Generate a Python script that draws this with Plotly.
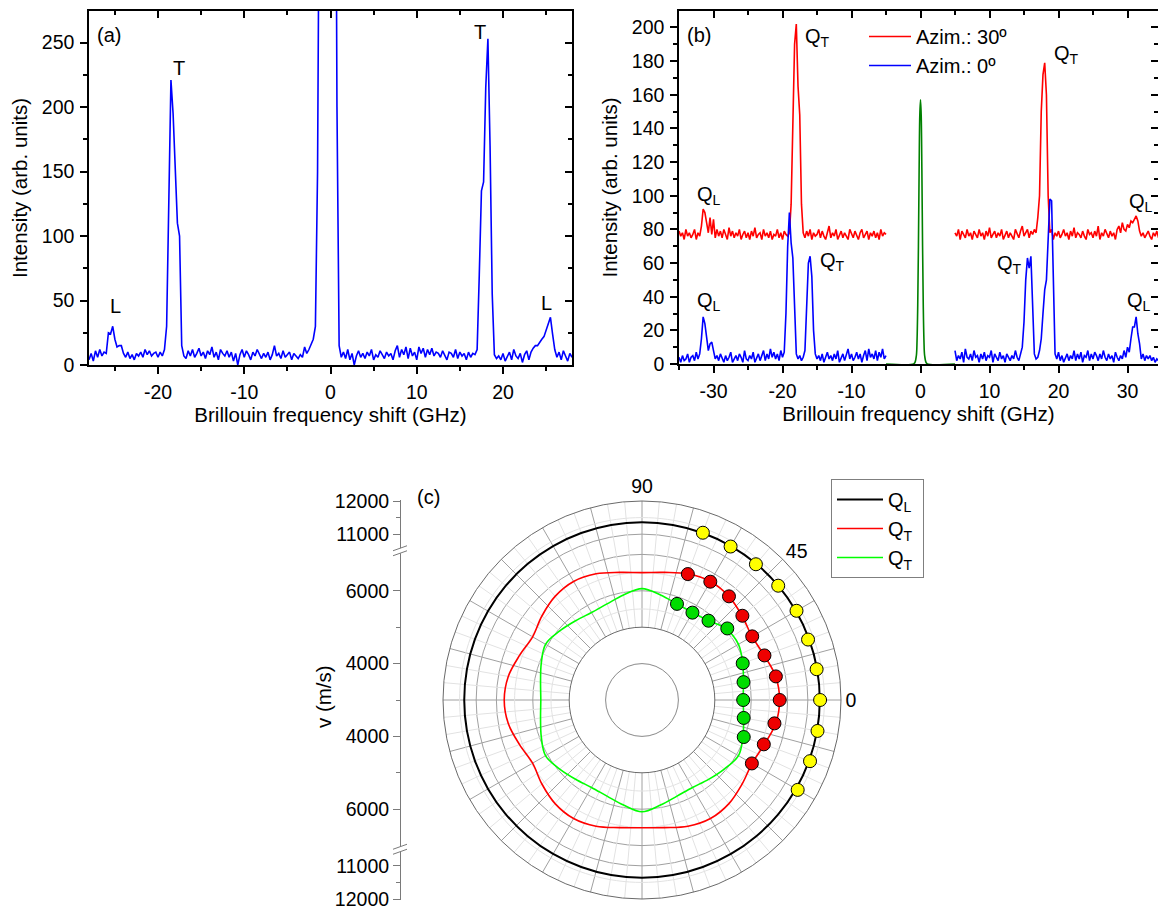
import numpy as np
import plotly.graph_objects as go

W, H = 1158, 906
FONT = "Liberation Sans, Arial, sans-serif"

# ---------------- (a) Brillouin spectrum ----------------
shift_a = np.arange(-28, 28.001, 0.25)
intensity_a = [
    4, 9, 3, 11, 6, 12, 7, 10,
    9, 25, 24, 30, 20, 14, 15, 15,
    9, 6, 10, 5, 8, 4, 9, 7,
    10, 6, 12, 8, 11, 7, 9, 10,
    6, 10, 7, 12, 30, 130, 221, 195,
    150, 110, 100, 15, 7, 5, 11, 7,
    12, 6, 9, 13, 7, 10, 5, 11,
    8, 14, 6, 10, 4, 12, 9, 7,
    11, 6, 10, 3, 9, 0, 8, 12,
    6, 11, 8, 4, 10, 7, 12, 9,
    5, 9, 6, 10, 4, 8, 15, 7,
    9, 5, 11, 6, 8, 10, 4, 9,
    7, 5, 8, 6, 14, 9, 12, 16,
    20, 30, 150, 450, 900, 1300, 1500, 1600,
    1500, 1200, 600, 200, 15, 6, 10, 5,
    12, 4, 9, 0, 7, 11, 6, 9,
    5, 10, 7, 12, 4, 8, 6, 11,
    8, 5, 10, 7, 9, 4, 11, 15,
    6, 12, 8, 14, 5, 13, 7, 10,
    4, 14, 9, 13, 6, 12, 8, 13,
    7, 10, 9, 6, 11, 8, 4, 10,
    9, 6, 12, 5, 10, 7, 9, 4,
    10, 6, 9, 8, 12, 70, 135, 142,
    215, 253, 170, 55, 8, 5, 7, 4,
    9, 3, 6, 10, 4, 12, 7, 5,
    9, 2, 8, 11, 4, 10, 13, 15,
    15, 18, 20, 22, 27, 33, 37, 24,
    12, 6, 10, 4, 11, 7, 3, 9,
    6,
]

# ---------------- (b) spectra at two azimuths ----------------
shift_b_neg = np.arange(-35, -4.999, 0.25)
shift_b_pos = np.arange(5, 35.001, 0.25)
azim30_neg = [
    79, 76, 78, 74, 80, 76, 78, 75,
    77, 80, 74, 78, 76, 82, 92, 90,
    84, 78, 87, 77, 86, 75, 80, 76,
    79, 75, 80, 77, 74, 81, 76, 79,
    75, 78, 76, 80, 74, 77, 79, 75,
    78, 74, 79, 76, 81, 75, 77, 78,
    74, 80, 76, 78, 75, 79, 74, 77,
    76, 80, 75, 78, 74, 79, 77, 76,
    78, 95, 135, 190, 202, 165, 148, 95,
    78, 75, 79, 76, 80, 74, 78, 76,
    77, 80, 75, 79, 76, 74, 78, 82,
    75, 78, 76, 80, 74, 77, 79, 75,
    78, 76, 74, 80, 77, 75, 79, 76,
    74, 78, 80, 75, 77, 79, 74, 78,
    76, 79, 75, 78, 74, 80, 76, 78,
    77,
]
azim30_pos = [
    78, 76, 80, 74, 79, 77, 75, 80,
    76, 78, 74, 79, 77, 75, 80, 76,
    78, 74, 79, 76, 81, 75, 77, 79,
    75, 78, 76, 80, 74, 77, 79, 75,
    78, 76, 74, 80, 77, 75, 79, 82,
    76, 78, 80, 75, 79, 77, 80, 78,
    87, 100, 150, 172, 179, 160, 100, 78,
    80, 74, 78, 76, 79, 75, 77, 80,
    76, 78, 74, 79, 76, 81, 75, 78,
    77, 75, 79, 76, 74, 80, 77, 78,
    75, 79, 76, 82, 74, 78, 76, 80,
    77, 75, 79, 76, 78, 74, 80, 82,
    78, 84, 80, 79, 83, 81, 85, 84,
    86, 88, 85, 79, 76, 78, 75, 77,
    79, 76, 74, 78, 76, 79, 75, 77,
    76,
]
azim0_neg = [
    4, 1, 5, 2, 3, 6, 1, 4,
    5, 2, 7, 3, 6, 15, 28, 24,
    16, 8, 12, 13, 8, 3, 5, 2,
    6, 3, 1, 5, 2, 4, 7, 1,
    3, 5, 2, 6, 4, 1, 8, 3,
    2, 5, 3, 7, 1, 4, 6, 2,
    5, 8, 2, 6, 3, 9, 4, 7,
    3, 6, 2, 8, 4, 7, 30, 70,
    90, 72, 63, 30, 6, 3, 5, 2,
    4, 8, 30, 60, 64, 52, 20, 6,
    3, 5, 2, 6, 1, 4, 7, 3,
    5, 2, 6, 3, 8, 1, 4, 6,
    2, 5, 9, 3, 6, 2, 4, 7,
    3, 6, 1, 5, 8, 2, 9, 4,
    6, 3, 8, 2, 7, 4, 9, 3,
    5,
]
azim0_pos = [
    8, 2, 5, 3, 7, 1, 9, 4,
    3, 6, 2, 8, 4, 5, 1, 6,
    3, 7, 2, 5, 4, 8, 1, 6,
    4, 2, 7, 3, 5, 1, 6, 4,
    2, 5, 3, 8, 4, 2, 6, 10,
    25, 50, 63, 57, 64, 35, 6, 3,
    4, 8, 15, 30, 44, 50, 75, 98,
    97, 45, 6, 3, 7, 2, 5, 1,
    4, 6, 2, 5, 3, 8, 2, 6,
    3, 7, 1, 5, 4, 8, 2, 6,
    3, 7, 5, 2, 6, 3, 8, 4,
    2, 6, 3, 5, 1, 7, 4, 2,
    5, 3, 8, 4, 10, 7, 15, 22,
    22, 28, 18, 12, 3, 6, 2, 5,
    3, 5, 2, 4, 1, 3, 2, 4,
    3,
]
laser_shift = [-5, -1.0, -0.8, -0.6, -0.5, -0.4, -0.3, -0.2, -0.1, 0.0,
               0.1, 0.2, 0.3, 0.4, 0.5, 0.6, 0.8, 1.0, 5]
laser_intensity = [0, 0, 1, 5, 14, 35, 70, 115, 148, 157,
                   148, 115, 70, 35, 14, 5, 1, 0, 0]

# tick labels written with a plain hyphen
ticks_a = [-20, -10, 0, 10, 20]
ticks_b = [-30, -20, -10, 0, 10, 20, 30]

# ---------------- (c) velocity vs in-plane angle ----------------
angle_fit = list(range(0, 361, 10))
vel_QL_fit = [
    11360, 11360, 11360, 11360, 11360, 11360, 11360, 11360, 11360, 11360,
    11360, 11360, 11360, 11360, 11360, 11360, 11360, 11360, 11360, 11360,
    11360, 11360, 11360, 11360, 11360, 11360, 11360, 11360, 11360, 11360,
    11360, 11360, 11360, 11360, 11360, 11360, 11360]
vel_QT1_fit = [
    6780, 6730, 6575, 6490, 6590, 6715, 6760, 6690, 6560, 6500,
    6560, 6690, 6760, 6715, 6590, 6470, 6580, 6730, 6785, 6730,
    6580, 6470, 6590, 6715, 6760, 6690, 6560, 6510, 6560, 6690,
    6760, 6715, 6590, 6490, 6575, 6730, 6780]
vel_QT2_fit = [
    5780, 5830, 5945, 6060, 6030, 5845, 5775, 5810, 5930, 6060,
    5930, 5810, 5775, 5840, 5950, 6060, 5945, 5830, 5780, 5830,
    5945, 6060, 5950, 5840, 5775, 5810, 5930, 6070, 5930, 5810,
    5775, 5845, 5950, 6060, 5950, 5835, 5780]

angle_meas = [70, 60, 50, 40, 30, 20, 10, 0, -10, -20, -30]
vel_QL_meas = [11367, 11343, 11343, 11361, 11379, 11328, 11346, 11370, 11373, 11391, 11420]
vel_QT1_meas = [6682, 6753, 6717, 6600, 6496, 6580, 6734, 6783, 6695, 6561, 6485]
angle_meas_QT2 = [70, 60, 50, 40, 20, 10, 0, -10, -20]
vel_QT2_meas = [5810, 5771, 5843, 6058, 5944, 5832, 5780, 5837, 5974]

# broken radial scale: 3000-7100 m/s on the inner part, 10500-12000 m/s outside
LOW0, LOW1, HIGH0, HIGH1 = 3000.0, 7100.0, 10500.0, 12000.0
R_BREAK, R_MAX = 150.0, 200.0


def radial(v):
    v = np.asarray(v, dtype=float)
    r = np.where(v <= LOW1,
                 (v - LOW0) * R_BREAK / (LOW1 - LOW0),
                 R_BREAK + (v - HIGH0) * (R_MAX - R_BREAK) / (HIGH1 - HIGH0))
    return r.tolist()


def px(x):
    return x / W


def py(y):
    return 1 - y / H


fig = go.Figure()

# (a)
fig.add_trace(go.Scatter(x=shift_a, y=intensity_a, mode="lines",
                         line=dict(color="#0000ff", width=1.6),
                         xaxis="x", yaxis="y", showlegend=False, hoverinfo="skip"))

# (b)
gap_x = list(shift_b_neg) + [None] + list(shift_b_pos)
fig.add_trace(go.Scatter(x=gap_x, y=azim30_neg + [None] + azim30_pos, mode="lines",
                         line=dict(color="#ff0000", width=1.6), name="Azim.: 30º",
                         xaxis="x2", yaxis="y2", legend="legend", hoverinfo="skip"))
fig.add_trace(go.Scatter(x=gap_x, y=azim0_neg + [None] + azim0_pos, mode="lines",
                         line=dict(color="#0000ff", width=1.6), name="Azim.: 0º",
                         xaxis="x2", yaxis="y2", legend="legend", hoverinfo="skip"))
fig.add_trace(go.Scatter(x=laser_shift, y=laser_intensity, mode="lines",
                         line=dict(color="#008000", width=1.6, shape="spline"),
                         xaxis="x2", yaxis="y2", showlegend=False, hoverinfo="skip"))

# empty traces that carry the mirrored frame axes
for xa, ya in (("x3", "y"), ("x", "y3"), ("x4", "y2"), ("x2", "y4"), ("x5", "y5")):
    fig.add_trace(go.Scatter(x=[None], y=[None], xaxis=xa, yaxis=ya,
                             showlegend=False, hoverinfo="skip"))

# (c) polar grid details
r_in = float(radial(5000))
fine_r, fine_t = [], []
for a in range(0, 360, 5):
    if a % 15:
        fine_r += [r_in, R_MAX, None]
        fine_t += [a, a, None]
ring_theta = list(range(0, 361, 2))
for v in (5500, 6500, 11500):
    fine_r += [radial(v)] * len(ring_theta) + [None]
    fine_t += ring_theta + [None]
fig.add_trace(go.Scatterpolar(r=fine_r, theta=fine_t, mode="lines",
                              line=dict(color="#e2e2e2", width=1),
                              showlegend=False, hoverinfo="skip"))

fig.add_trace(go.Scatterpolar(r=radial(vel_QL_fit), theta=angle_fit, mode="lines",
                              line=dict(color="black", width=2, shape="spline"),
                              name="Q<sub>L</sub>", legend="legend2", hoverinfo="skip"))
fig.add_trace(go.Scatterpolar(r=radial(vel_QT1_fit), theta=angle_fit, mode="lines",
                              line=dict(color="#ff0000", width=1.6, shape="spline"),
                              name="Q<sub>T</sub>", legend="legend2", hoverinfo="skip"))
fig.add_trace(go.Scatterpolar(r=radial(vel_QT2_fit), theta=angle_fit, mode="lines",
                              line=dict(color="#00ff00", width=1.6, shape="spline"),
                              name="Q<sub>T</sub> ", legend="legend2", hoverinfo="skip"))
mk = dict(size=13, line=dict(color="black", width=1))
fig.add_trace(go.Scatterpolar(r=radial(vel_QL_meas), theta=angle_meas, mode="markers",
                              marker=dict(color="#ffff00", **mk), showlegend=False, hoverinfo="skip"))
fig.add_trace(go.Scatterpolar(r=radial(vel_QT1_meas), theta=angle_meas, mode="markers",
                              marker=dict(color="#ee0000", **mk), showlegend=False, hoverinfo="skip"))
fig.add_trace(go.Scatterpolar(r=radial(vel_QT2_meas), theta=angle_meas_QT2, mode="markers",
                              marker=dict(color="#00dd00", **mk), showlegend=False, hoverinfo="skip"))

# ---------------- axes ----------------
tickfont = dict(size=19.5, color="black", family=FONT)
titlefont = dict(size=20.5, color="black", family=FONT)


def frame(ticks, dtick, minor_dtick, rng, domain, labels=True, line=True, tickset=None, **kw):
    d = dict(range=rng, domain=domain, showline=line, linecolor="black", linewidth=1.5,
             ticks=ticks, ticklen=7, tickwidth=1.5, tickcolor="black",
             dtick=dtick, tick0=0, showgrid=False, zeroline=False,
             showticklabels=labels, tickfont=tickfont, automargin=False,
             minor=dict(ticks=ticks, ticklen=4, tickwidth=1.5, tickcolor="black",
                        dtick=minor_dtick, tick0=0, showgrid=False))
    if tickset is not None:
        d.update(tickmode="array", tickvals=tickset, ticktext=[str(t) for t in tickset])
    d.update(kw)
    return d


xa_dom = [px(89), px(572)]
ya_dom = [py(365), py(11)]
xb_dom = [px(679), 1.0]
yb_dom = [py(364), py(11)]
xa_rng = [-28, 28]
ya_rng = [0, 274.5]
xb_rng = [-35, 34.42]
yb_rng = [0, 209.8]

layout_axes = dict(
    xaxis=frame("outside", 10, 5, xa_rng, xa_dom, anchor="y", tickset=ticks_a,
                title=dict(text="Brillouin frequency shift (GHz)", font=titlefont, standoff=3),
                ticklabelstandoff=2),
    yaxis=frame("outside", 50, 25, ya_rng, ya_dom, anchor="x",
                title=dict(text="Intensity (arb. units)", font=titlefont, standoff=9),
                ticklabelstandoff=2),
    xaxis3=frame("inside", 10, 5, xa_rng, xa_dom, labels=False, anchor="y",
                 overlaying="x", side="top"),
    yaxis3=frame("inside", 50, 25, ya_rng, ya_dom, labels=False, anchor="x",
                 overlaying="y", side="right"),
    xaxis2=frame("outside", 10, 5, xb_rng, xb_dom, anchor="y2", tickset=ticks_b,
                 title=dict(text="Brillouin frequency shift (GHz)", font=titlefont, standoff=3),
                 ticklabelstandoff=2),
    yaxis2=frame("outside", 20, 10, yb_rng, yb_dom, anchor="x2",
                 title=dict(text="Intensity (arb. units)", font=titlefont, standoff=9),
                 ticklabelstandoff=2),
    xaxis4=frame("inside", 10, 5, xb_rng, xb_dom, labels=False, anchor="y2",
                 overlaying="x2", side="top"),
    yaxis4=frame("inside", 20, 10, yb_rng, yb_dom, labels=False, anchor="x2",
                 overlaying="y2", side="right", line=False),
)

# left velocity scale of (c)
CX, CY, RPX = 642, 700, 199
v_major = [12000, 11000, 6000, 4000]
v_minor = [11500, 5000]
yt_vals = [radial(v) for v in v_major] + [-radial(v) for v in v_major]
yt_text = [f"{v}" for v in v_major] * 2
ym_vals = [radial(v) for v in v_minor] + [-radial(v) for v in v_minor] + [0.0]
PAD = 0.6
layout_axes["xaxis5"] = dict(domain=[px(380), px(400)], visible=False, anchor="y5", range=[0, 1])
layout_axes["yaxis5"] = dict(
    domain=[py(CY + RPX + PAD), py(CY - RPX - PAD)], range=[-R_MAX - PAD, R_MAX + PAD],
    anchor="free", position=px(400), ticklabeloverflow="allow",
    showline=True, linecolor="#7a7a7a", linewidth=1, ticks="outside", ticklen=7, tickwidth=1,
    tickcolor="#7a7a7a", tickmode="array", tickvals=yt_vals, ticktext=yt_text,
    tickfont=tickfont, showgrid=False, zeroline=False, automargin=False,
    minor=dict(ticks="outside", ticklen=4, tickwidth=1, tickcolor="#7a7a7a",
               tickmode="array", tickvals=ym_vals, showgrid=False),
)

ang_vals = list(range(0, 360, 15))
ang_text = [str(a) if a in (0, 45, 90) else "" for a in ang_vals]

polar = dict(
    domain=dict(x=[px(CX - RPX), px(CX + RPX)], y=[py(CY + RPX), py(CY - RPX)]),
    hole=r_in / R_MAX,
    bgcolor="white",
    radialaxis=dict(range=[r_in, R_MAX], tickmode="array",
                    tickvals=[radial(v) for v in (6000, 7000, 11000)],
                    showticklabels=False, ticks="", showline=False,
                    gridcolor="#a0a0a0", gridwidth=1),
    angularaxis=dict(direction="counterclockwise", rotation=0, tickmode="array",
                     tickvals=ang_vals, ticktext=ang_text, ticks="",
                     showline=True, linecolor="#6a6a6a", linewidth=1,
                     gridcolor="#a0a0a0", gridwidth=1, tickfont=tickfont),
)

# inner 4000 m/s ring sits inside the polar hole
r4 = radial(4000) * RPX / R_MAX
shapes = [dict(type="circle", xref="paper", yref="paper",
               x0=px(CX - r4), x1=px(CX + r4), y0=py(CY + r4), y1=py(CY - r4),
               line=dict(color="#8a8a8a", width=1))]
# axis-break marks on the velocity scale
for yb in (CY - R_BREAK * RPX / R_MAX, CY + R_BREAK * RPX / R_MAX):
    shapes.append(dict(type="rect", xref="paper", yref="paper",
                       x0=px(396), x1=px(404), y0=py(yb + 2.5), y1=py(yb - 2.5),
                       fillcolor="white", line=dict(width=0)))
    for dy in (-2.5, 2.5):
        shapes.append(dict(type="line", xref="paper", yref="paper",
                           x0=px(393), y0=py(yb + dy + 2.5), x1=px(407), y1=py(yb + dy - 2.5),
                           line=dict(color="#7a7a7a", width=1)))

ann_font = dict(size=20, color="black", family=FONT)
annotations = [
    dict(text="(a)", xref="paper", yref="paper", x=px(95), y=py(35), xanchor="left",
         yanchor="middle", showarrow=False, font=ann_font),
    dict(text="(b)", xref="paper", yref="paper", x=px(685), y=py(35), xanchor="left",
         yanchor="middle", showarrow=False, font=ann_font),
    dict(text="(c)", xref="paper", yref="paper", x=px(415), y=py(497), xanchor="left",
         yanchor="middle", showarrow=False, font=ann_font),
    dict(text="v (m/s)", xref="paper", yref="paper", x=px(323), y=py(697), textangle=-90,
         xanchor="center", yanchor="middle", showarrow=False, font=titlefont),
]
peak_labels_a = [("T", -17.6, 230), ("T", 17.3, 258), ("L", -24.95, 46), ("L", 25.0, 48)]
for t, x, y in peak_labels_a:
    annotations.append(dict(text=t, x=x, y=y, xref="x", yref="y", showarrow=False, font=ann_font))
peak_labels_b = [("Q<sub>T</sub>", -15.0, 194), ("Q<sub>T</sub>", 21.1, 184),
                 ("Q<sub>L</sub>", -30.6, 100), ("Q<sub>L</sub>", 31.9, 96),
                 ("Q<sub>L</sub>", -30.7, 37), ("Q<sub>T</sub>", -12.8, 61),
                 ("Q<sub>T</sub>", 12.9, 59), ("Q<sub>L</sub>", 31.6, 37)]
for t, x, y in peak_labels_b:
    annotations.append(dict(text=t, x=x, y=y, xref="x2", yref="y2", showarrow=False, font=ann_font))

fig.update_layout(
    template="none",
    width=W, height=H,
    margin=dict(l=0, r=0, t=0, b=0),
    paper_bgcolor="white", plot_bgcolor="rgba(0,0,0,0)",
    font=dict(family=FONT, size=19, color="black"),
    polar=polar,
    shapes=shapes,
    annotations=annotations,
    legend=dict(x=px(864), y=py(17), xanchor="left", yanchor="top", bgcolor="rgba(0,0,0,0)",
                borderwidth=0, font=ann_font, itemwidth=42, tracegroupgap=0),
    legend2=dict(x=px(831), y=py(479), xanchor="left", yanchor="top", bgcolor="white",
                 bordercolor="#7f7f7f", borderwidth=1, font=ann_font, itemwidth=46),
    **layout_axes,
)

fig.write_html("out.html")
